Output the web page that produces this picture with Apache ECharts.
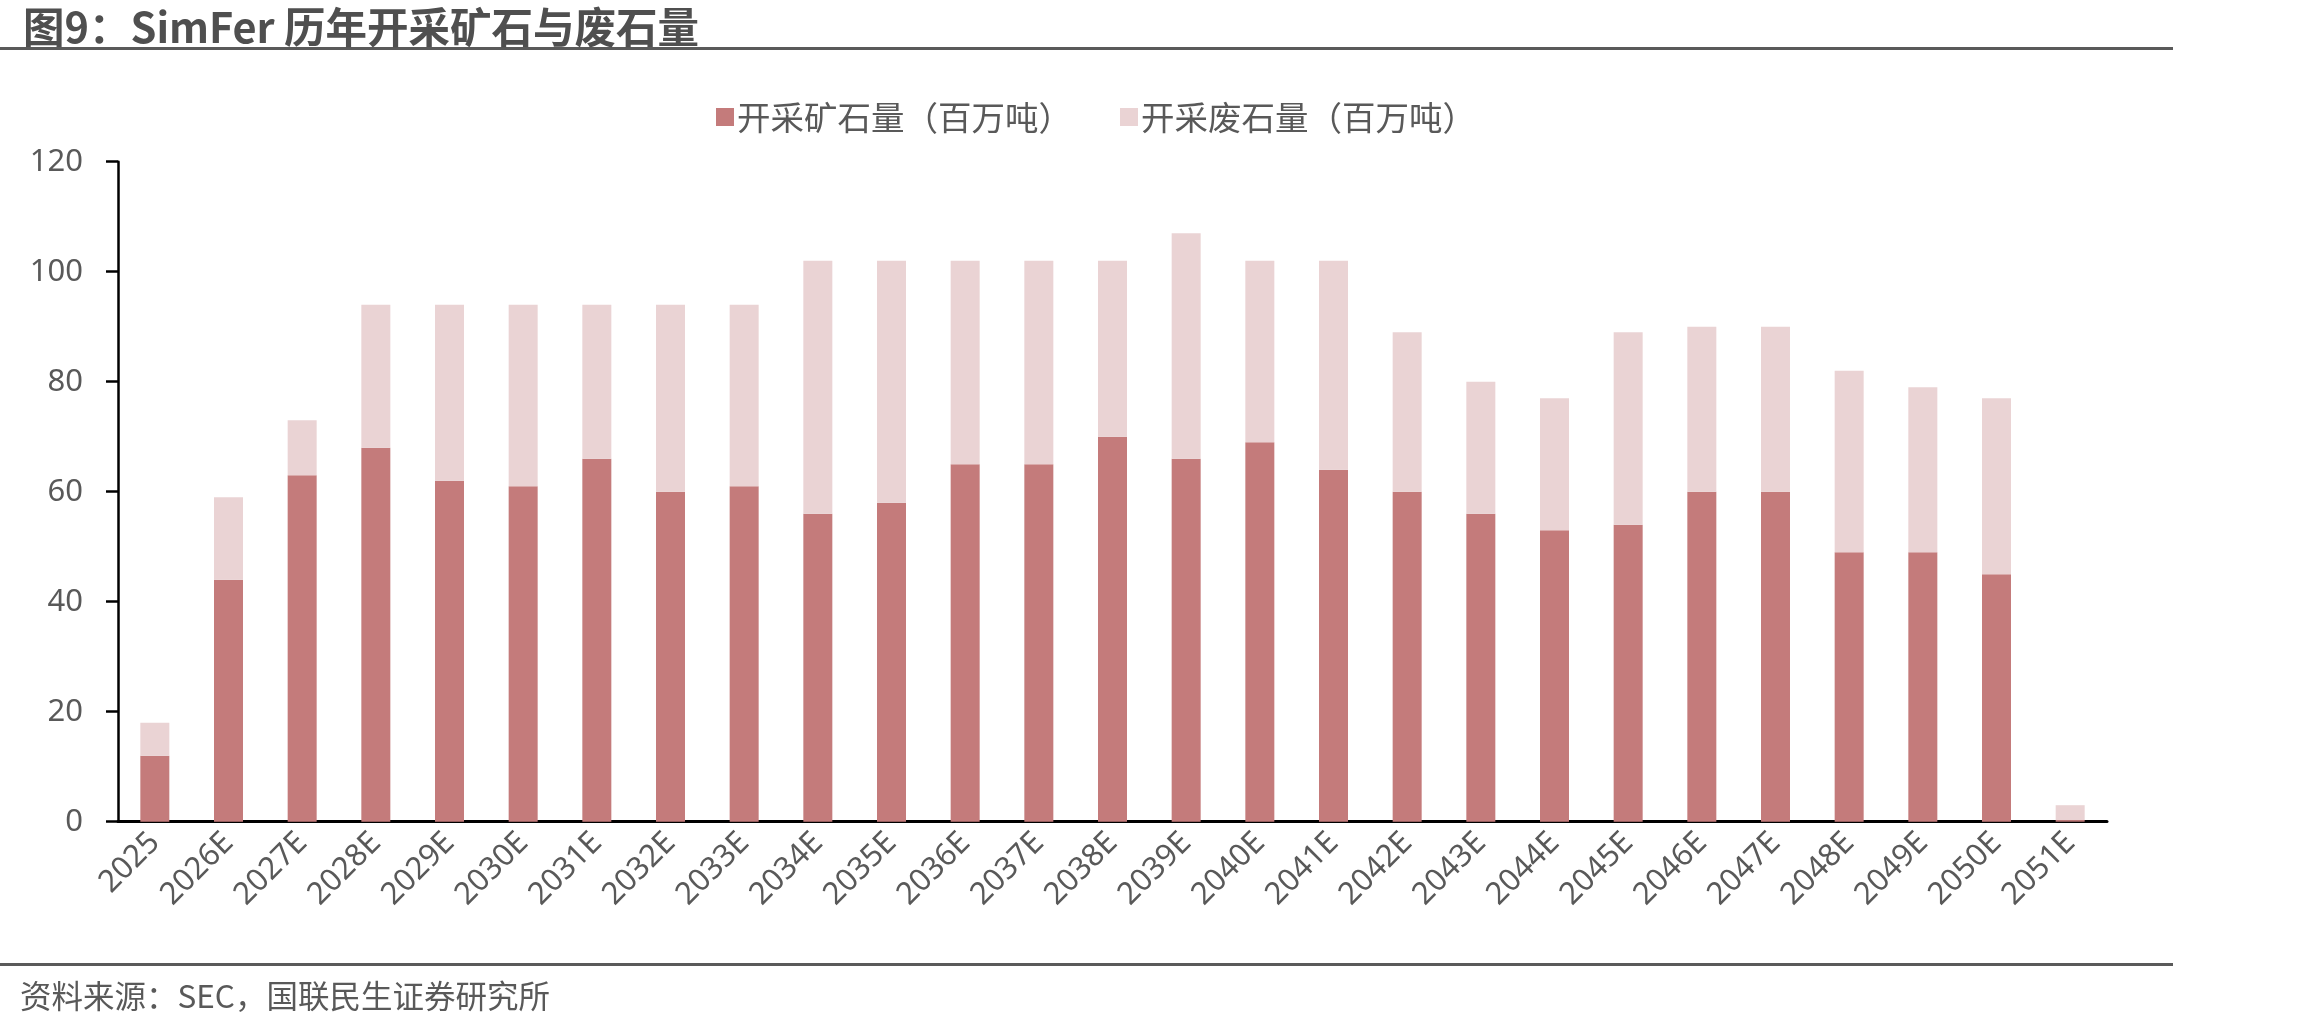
<!DOCTYPE html>
<html>
<head>
<meta charset="utf-8">
<script src="https://cdn.jsdelivr.net/npm/echarts@6/dist/echarts.min.js"></script>
<style>
html,body{margin:0;padding:0;background:#fff;}
#c{width:2310px;height:1025px;}
</style>
</head>
<body>
<div id="c"></div>
<script>
const categories = ['2025','2026E','2027E','2028E','2029E','2030E','2031E','2032E','2033E','2034E','2035E','2036E','2037E','2038E','2039E','2040E','2041E','2042E','2043E','2044E','2045E','2046E','2047E','2048E','2049E','2050E','2051E'];
const oreMined = [12,44,63,68,62,61,66,60,61,56,58,65,65,70,66,69,64,60,56,53,54,60,60,49,49,45,0.3];
const wasteMined = [6,15,10,26,32,33,28,34,33,46,44,37,37,32,41,33,38,29,24,24,35,30,30,33,30,32,2.7];
const yTicks = [0,20,40,60,80,100,120];
const seriesNames = ['开采矿石量（百万吨）','开采废石量（百万吨）'];
const titleText = '图9：SimFer 历年开采矿石与废石量';
const sourceText = '资料来源：SEC，国联民生证券研究所';

const FONT = '"Noto Sans", "Noto Sans CJK SC", sans-serif';
const CJK = '"Noto Sans CJK SC", "Noto Sans", sans-serif';
const chart = echarts.init(document.getElementById('c'), null, {renderer:'canvas'});
chart.setOption({
  animation: false,
  backgroundColor: '#ffffff',
  title: {
    text: titleText,
    left: 18, top: 1,
    textStyle: {fontFamily: CJK, fontSize: 41.5, fontWeight: 'bold', color: '#4f4f4f'}
  },
  graphic: [
    {type:'rect', shape:{x:0, y:47, width:2173, height:3}, style:{fill:'#5a5a5a'}},
    {type:'rect', shape:{x:0, y:963, width:2173, height:3}, style:{fill:'#5a5a5a'}},
    {type:'text', left: 20, top: 980, style:{text: sourceText, font: '31.5px ' + CJK, fill:'#595959'}}
  ],
  legend: {
    left: 711, top: 95,
    itemWidth: 18, itemHeight: 18, itemGap: 48,
    icon: 'rect',
    textStyle: {fontFamily: CJK, fontSize: 33.5, color: '#595959', lineHeight: 34, padding:[0,0,0,-2]},
    data: seriesNames
  },
  grid: {left: 118, right: 203, top: 161.7, bottom: 203.3, containLabel: false},
  xAxis: {
    type: 'category',
    data: categories,
    axisLine: {show: true, lineStyle: {color: '#000', width: 3}},
    axisTick: {show: false},
    axisLabel: {rotate: 45, margin: 16, fontFamily: FONT, fontSize: 31, color: '#595959', interval: 0}
  },
  yAxis: {
    type: 'value',
    min: yTicks[0], max: yTicks[yTicks.length-1], interval: yTicks[1]-yTicks[0],
    axisLine: {show: true, lineStyle: {color: '#000', width: 2.5}},
    axisTick: {show: true, inside: false, length: 12, lineStyle: {color: '#000', width: 2.5}},
    splitLine: {show: false},
    axisLabel: {margin: 35, fontFamily: FONT, fontSize: 31, color: '#595959'}
  },
  series: [
    {name: seriesNames[0], type: 'bar', stack: 'total', data: oreMined, barWidth: 29,
     itemStyle: {color: '#c47b7b'}},
    {name: seriesNames[1], type: 'bar', stack: 'total', data: wasteMined, barWidth: 29,
     itemStyle: {color: '#ead3d4'}}
  ]
});
</script>
</body>
</html>
